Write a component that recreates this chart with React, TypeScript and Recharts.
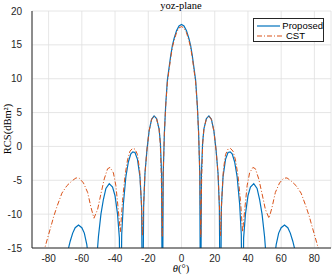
import React from 'react';
import { LineChart, Line, XAxis, YAxis, CartesianGrid, Legend } from 'recharts';

// angle (deg) / RCS (dBm^2)
const PROPOSED_ANGLE = [
  -90, -76, -72, -70, -68.5, -67, -65.5, -64, -62, -60, -58.5, -57, -56, -53.5, -51, -50, -48.5, -47, -45.5,
  -43.5, -41.5, -40, -38.5, -37.4, -36.7, -36, -35, -33.5, -32, -30.5, -29.3, -28, -26.5, -25, -24, -23.4,
  -22.8, -22, -20.8, -19.5, -18, -16.5, -15, -13.5, -12.7, -12, -11.5, -11, -10.3, -9.5, -8.5, -7.5, -6.5,
  -5.5, -4.5, -3, -1.5, 0, 1.5, 3, 4.5, 5.5, 6.5, 7.5, 8.5, 9.5, 10.3, 11, 11.5, 12, 12.7, 13.5, 15, 16.5, 18,
  19.5, 20.8, 22, 22.8, 23.4, 24, 25, 26.5, 28, 29.3, 30.5, 32, 33.5, 35, 36, 36.7, 37.4, 38.5, 40, 41.5,
  43.5, 45.5, 47, 48.5, 50, 51, 53.5, 56, 57, 58.5, 60, 62, 64, 65.5, 67, 68.5, 70, 72, 76, 90,
];
const PROPOSED_RCS = [
  -40, -35, -22, -18, -15.5, -14, -12.8, -12, -11.6, -12, -12.8, -14.5, -16.5, -30, -16.5, -13.3, -10, -7.8, -6.2,
  -5.5, -6, -7.3, -10, -13.5, -30, -13, -8.5, -4.5, -2.3, -1.1, -0.8, -0.9, -1.9, -4.5, -9, -30,
  -9, -4, -0.5, 2.3, 4, 4.5, 4.1, 2.6, 0.5, -4, -30, -4, 2, 6.2, 9.8, 11.6, 13.4,
  14.9, 15.9, 17.1, 17.8, 18, 17.8, 17.1, 15.9, 14.9, 13.4, 11.6, 9.8, 6.2, 2, -4, -30, -4, 0.5, 2.6, 4.1, 4.5, 4,
  2.3, -0.5, -4, -9, -30, -9, -4.5, -1.9, -0.9, -0.8, -1.1, -2.3, -4.5, -8.5, -13, -30, -13.5, -10, -7.3, -6,
  -5.5, -6.2, -7.8, -10, -13.3, -16.5, -30, -16.5, -14.5, -12.8, -12, -11.6, -12, -12.8, -14, -15.5, -18, -22, -35, -40,
];

const CST_ANGLE = [
  -90, -86, -84, -82.3, -80, -78, -77, -75, -72, -69, -66, -63.5, -61.5, -59, -56.5, -54.5, -52.7, -50.5, -48.5,
  -46.5, -44.5, -43, -41, -39.5, -38, -36.8, -35.5, -34, -32.5, -31, -29.5, -28, -26.5, -25.2, -24.2, -23.5,
  -22.8, -22, -20.8, -19.5, -18, -16.5, -15, -13.5, -12.8, -12.2, -11.6, -11, -10.3, -9.5, -8.5, -7.5, -6.5,
  -5.5, -4.5, -3, -1.5, 0, 1.5, 3, 4.5, 5.5, 6.5, 7.5, 8.5, 9.5, 10.3, 11, 11.6, 12.2, 12.8, 13.5, 15, 16.5, 18,
  19.5, 20.8, 22, 22.8, 23.5, 24.2, 25.2, 26.5, 28, 29.5, 31, 32.5, 34, 35.5, 36.8, 38, 39.5, 41, 43, 44.5,
  46.5, 48.5, 50.5, 52.7, 54.5, 56.5, 59, 61.5, 63.5, 66, 69, 72, 75, 77, 78, 80, 82.3, 84, 86, 90,
];
const CST_RCS = [
  -26, -20, -17, -15, -13, -11.3, -10.4, -8.9, -6.9, -5.8, -5.1, -4.65, -4.7, -5.4, -6.8, -9, -10.6, -9.3, -7,
  -4.8, -3.3, -3.1, -3.9, -5.8, -9.5, -12.6, -8, -4.3, -2, -0.7, -0.3, -0.4, -1.2, -3.5, -8, -13.2,
  -8.5, -4, -0.5, 2.3, 4, 4.5, 4.1, 2.6, 0.5, -4, -13.4, -4, 2, 6, 9.5, 11.3, 13.1,
  14.6, 15.6, 16.8, 17.5, 17.7, 17.5, 16.8, 15.6, 14.6, 13.1, 11.3, 9.5, 6, 2, -4, -13.4, -4, 0.5, 2.6, 4.1, 4.5, 4,
  2.3, -0.5, -4, -8.5, -13.2, -8, -3.5, -1.2, -0.4, -0.3, -0.7, -2, -4.3, -8, -12.6, -9.5, -5.8, -3.9, -3.1, -3.3,
  -4.8, -7, -9.3, -10.6, -9, -6.8, -5.4, -4.7, -4.65, -5.1, -5.8, -6.9, -8.9, -10.4, -11.3, -13, -15, -17, -20, -26,
];

const X_TICKS = [-80, -60, -40, -20, 0, 20, 40, 60, 80];
const Y_TICKS = [-15, -10, -5, 0, 5, 10, 15, 20];

const BLUE = '#0072BD';
const ORANGE = '#D95319';
const AXIS = '#262626';
const SANS = "'Liberation Sans Narrow', 'Liberation Sans', Arial, sans-serif";
const SERIF = "'Liberation Serif', 'DejaVu Serif', serif";

const proposed = PROPOSED_ANGLE.map((angle, i) => ({ angle, rcs: PROPOSED_RCS[i] }));
const cst = CST_ANGLE.map((angle, i) => ({ angle, rcs: CST_RCS[i] }));

function LegendBox() {
  const row = (label: string, color: string, dash?: string) => (
    <div style={{ display: 'flex', alignItems: 'center', height: 10 }}>
      <svg width={28} height={6} style={{ marginRight: 2 }}>
        <line x1={1} y1={3} x2={28} y2={3} stroke={color} strokeWidth={1.2} strokeDasharray={dash} />
      </svg>
      <span>{label}</span>
    </div>
  );
  return (
    <div
      style={{
        width: 71,
        height: 24,
        border: `1px solid ${AXIS}`,
        background: '#fff',
        fontFamily: SANS,
        fontSize: 9.5,
        color: '#000',
        padding: '2px 0 0 2px',
        boxSizing: 'border-box',
        lineHeight: '10px',
      }}
    >
      {row('Proposed', BLUE)}
      {row('CST', ORANGE, '5 2 1 2')}
    </div>
  );
}

export default function App() {
  return (
    <div style={{ position: 'absolute', left: 0, top: 0, width: 332, height: 275, background: '#fff' }}>
      <LineChart width={332} height={275} margin={{ top: 11, right: 1, left: 0, bottom: 0 }}>
        <CartesianGrid stroke="#dfdfdf" strokeWidth={0.8} />
        <XAxis
          type="number"
          dataKey="angle"
          domain={[-90, 90]}
          ticks={X_TICKS}
          interval={0}
          height={27}
          tickLine={false}
          tickMargin={1}
          axisLine={{ stroke: AXIS }}
          tick={{ fill: AXIS, fontSize: 10, fontFamily: SANS }}
          allowDuplicatedCategory={false}
        />
        <XAxis xAxisId="top" orientation="top" type="number" domain={[-90, 90]} height={0} tick={false} tickLine={false} axisLine={{ stroke: AXIS }} />
        <YAxis
          type="number"
          domain={[-15, 20]}
          ticks={Y_TICKS}
          interval={0}
          width={32}
          allowDataOverflow
          tickLine={false}
          tickMargin={4}
          axisLine={{ stroke: AXIS }}
          tick={{ fill: AXIS, fontSize: 10, fontFamily: SANS }}
        />
        <YAxis yAxisId="right" orientation="right" width={0} domain={[-15, 20]} tick={false} tickLine={false} axisLine={{ stroke: AXIS }} />
        <Line data={proposed} dataKey="rcs" name="Proposed" stroke={BLUE} strokeWidth={1.2} dot={false} type="linear" isAnimationActive={false} />
        <Line data={cst} dataKey="rcs" name="CST" stroke={ORANGE} strokeWidth={1} strokeDasharray="5 2 1 2" dot={false} type="linear" isAnimationActive={false} />
        <Legend
          layout="vertical"
          align="center"
          verticalAlign="middle"
          content={() => <LegendBox />}
          wrapperStyle={{ top: 18, left: 253, width: 'auto', height: 'auto' }}
        />
      </LineChart>
      <div style={{ position: 'absolute', top: 0, left: 131, width: 100, textAlign: 'center', fontFamily: SERIF, fontSize: 10.5, lineHeight: '12px' }}>
        yoz-plane
      </div>
      <div
        style={{
          position: 'absolute',
          left: 6.5,
          top: 129,
          transform: 'translate(-50%, -50%) rotate(-90deg)',
          whiteSpace: 'nowrap',
          fontFamily: SERIF,
          fontSize: 10.5,
        }}
      >
        RCS(dBm²)
      </div>
      <div style={{ position: 'absolute', top: 263, left: 131, width: 100, textAlign: 'center', fontFamily: SERIF, fontSize: 10.5, lineHeight: '12px' }}>
        <i>θ</i>(°)
      </div>
    </div>
  );
}
